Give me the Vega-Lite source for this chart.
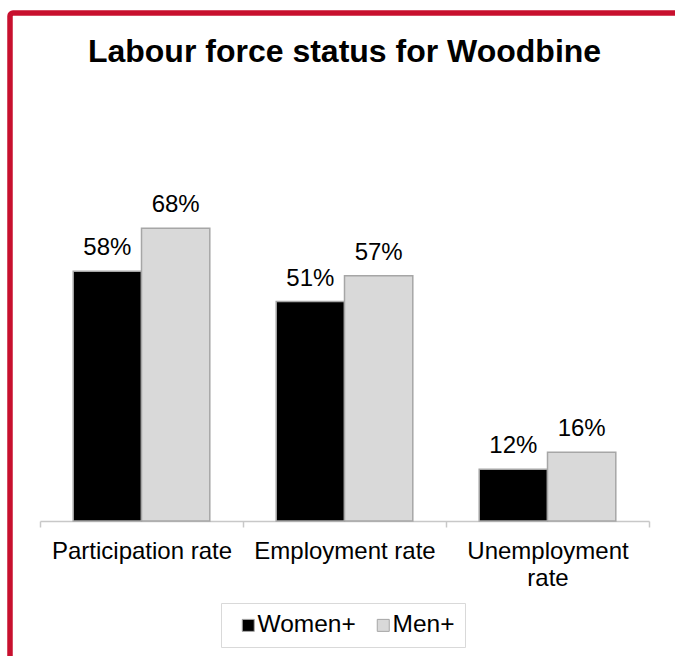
{
  "$schema": "https://vega.github.io/schema/vega-lite/v6.json",
  "autosize": "none",
  "width": 705,
  "height": 684,
  "padding": {"left": 10, "top": 13, "right": -40, "bottom": -41},
  "background": "white",
  "config": {
    "font": "Liberation Sans",
    "view": {"stroke": "#C8102E", "strokeWidth": 5.5, "cornerRadius": 3}
  },
  "title": {
    "text": "Labour force status for Woodbine",
    "font": "Liberation Sans",
    "fontSize": 32,
    "fontWeight": "bold",
    "color": "#000000",
    "anchor": "middle",
    "frame": "group",
    "baseline": "alphabetic",
    "offset": -81,
    "dx": -18
  },
  "data": {
    "values": [
      {"category": "Participation rate", "sex": "Women+", "value": 0.58},
      {"category": "Participation rate", "sex": "Men+", "value": 0.68},
      {"category": "Employment rate", "sex": "Women+", "value": 0.51},
      {"category": "Employment rate", "sex": "Men+", "value": 0.57},
      {"category": "Unemployment rate", "sex": "Women+", "value": 0.12},
      {"category": "Unemployment rate", "sex": "Men+", "value": 0.16}
    ]
  },
  "encoding": {
    "x": {
      "field": "category",
      "type": "nominal",
      "sort": ["Participation rate", "Employment rate", "Unemployment rate"],
      "scale": {"range": [30, 639], "paddingInner": 0, "paddingOuter": 0},
      "axis": {
        "title": null,
        "orient": "bottom",
        "offset": -176,
        "domainColor": "#C8C8C8",
        "domainWidth": 1.5,
        "tickColor": "#C8C8C8",
        "tickWidth": 1.5,
        "tickSize": 6,
        "tickBand": "extent",
        "labelFont": "Liberation Sans",
        "labelFontSize": 24,
        "labelColor": "#000000",
        "labelAngle": 0,
        "labelPadding": 12,
        "labelLimit": 0,
        "labelBaseline": "top",
        "labelLineHeight": 27,
        "labelExpr": "datum.value == 'Unemployment rate' ? ['Unemployment', 'rate'] : datum.value"
      }
    },
    "xOffset": {
      "field": "sex",
      "type": "nominal",
      "sort": ["Women+", "Men+"],
      "scale": {"paddingInner": 0, "paddingOuter": 0.486}
    },
    "y": {
      "field": "value",
      "type": "quantitative",
      "stack": null,
      "scale": {"domain": [-0.4089, 1.1803], "nice": false, "zero": false},
      "axis": null
    }
  },
  "layer": [
    {
      "mark": {"type": "bar", "stroke": "#A6A6A6", "strokeWidth": 1.5},
      "encoding": {
        "color": {
          "field": "sex",
          "type": "nominal",
          "sort": ["Women+", "Men+"],
          "scale": {"domain": ["Women+", "Men+"], "range": ["#000000", "#D9D9D9"]},
          "legend": {
            "orient": "none",
            "legendX": 211,
            "legendY": 590,
            "direction": "horizontal",
            "title": null,
            "symbolType": "square",
            "symbolSize": 144,
            "symbolStrokeColor": "#A6A6A6",
            "symbolStrokeWidth": 1,
            "symbolOffset": 5,
            "labelFont": "Liberation Sans",
            "labelFontSize": 24.5,
            "labelColor": "#000000",
            "labelOffset": -3,
            "columnPadding": 10,
            "padding": 10,
            "strokeColor": "#D9D9D9",
            "fillColor": "white"
          }
        }
      }
    },
    {
      "mark": {"type": "text", "baseline": "alphabetic", "dy": -16, "fontSize": 24, "font": "Liberation Sans", "color": "#000000"},
      "encoding": {
        "text": {"field": "value", "type": "quantitative", "format": ".0%"}
      }
    }
  ]
}
